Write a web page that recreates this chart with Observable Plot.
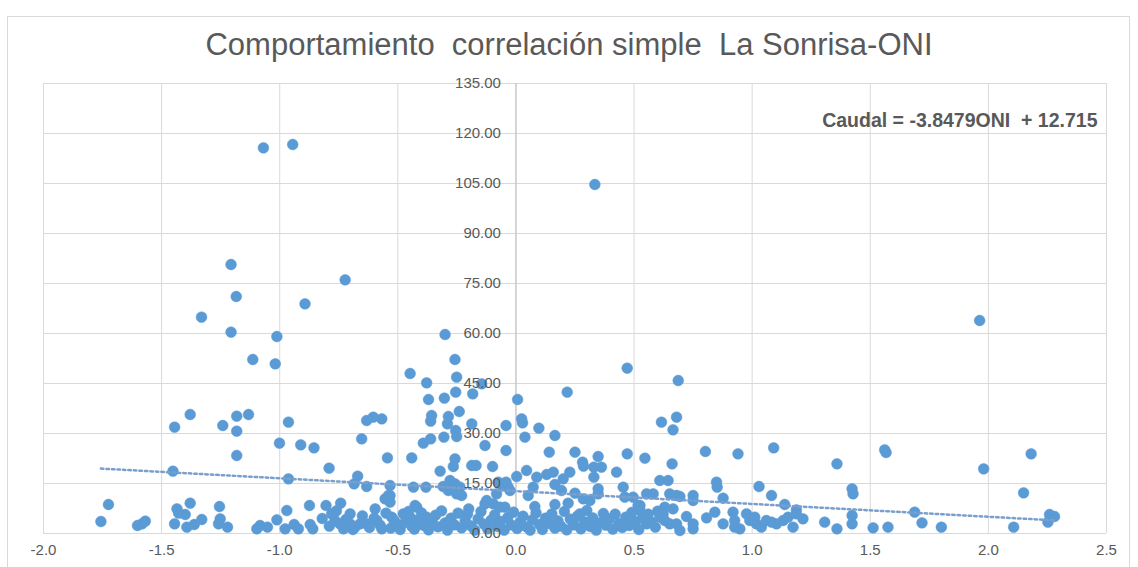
<!DOCTYPE html>
<html>
<head>
<meta charset="utf-8">
<script src="https://cdn.jsdelivr.net/npm/d3@7"></script>
<script src="https://cdn.jsdelivr.net/npm/@observablehq/plot@0.6"></script>
<style>
  html, body { margin: 0; padding: 0; background: #fff; }
  #wrap { position: relative; width: 1138px; height: 567px; overflow: hidden; background: #fff; }
  #border { position: absolute; left: 7px; top: 16px; width: 1123px; height: 600px; border: 1px solid #d9d9d9; box-sizing: border-box; }
  #title { position: absolute; left: 0; top: 26px; width: 1138px; text-align: center; font-family: "Liberation Sans", Arial, sans-serif; font-size: 31px; color: #595959; white-space: pre; line-height: 38px; }
  #chart { position: absolute; left: 0; top: 0; }
</style>
</head>
<body>
<div id="wrap">
  <div id="border"></div>
  <div id="chart"></div>
  <div id="title">Comportamiento  correlación simple  La Sonrisa-ONI</div>
</div>
<script>
// Tick values
const xTicks = [-2.0, -1.5, -1.0, -0.5, 0.0, 0.5, 1.0, 1.5, 2.0, 2.5];
const yTicks = [0, 15, 30, 45, 60, 75, 90, 105, 120, 135];
const ecuacion = "Caudal = -3.8479ONI  + 12.715";
const pendiente = -3.8479;
const intercepto = 12.715;

// [ONI, Caudal] pairs
const puntosAltos = [
  [-1.069,115.7],[-0.945,116.7],[0.334,104.7],[-1.206,80.7],[-1.184,71.1],[-0.723,76.1],
  [-0.893,68.9],[-1.331,64.9],[1.963,63.9],[-1.206,60.4],[-1.012,59.1],[-0.30,59.7],
  [-1.114,52.2],[-1.019,50.9],[-0.258,52.2],[0.471,49.6],[-0.448,48.0],[0.687,45.9],
  [-0.378,45.2],[-0.251,46.9],[-0.145,44.9],[-0.37,40.2],[-0.303,40.6],[-0.255,42.4],
  [-0.183,41.9],[0.007,40.2],[0.217,42.4]
];
const puntosMedios = [
  [-0.357,35.4],[-0.361,33.7],[-0.286,35.1],[-0.29,32.9],[-0.24,36.6],[-0.187,32.9],
  [-0.255,30.9],[-0.251,29.1],[-0.305,28.9],[-0.361,28.4],[-0.392,27.1],[-0.131,26.4],
  [-0.042,32.4],[0.024,34.4],[0.028,33.2],[0.038,28.9],[0.097,31.6],[0.165,29.4],
  [-0.042,24.9],[0.141,24.4],[0.25,24.4],[0.282,21.4],[0.286,20.2],[0.348,23.1],
  [0.33,19.9],[0.362,19.9],[0.33,16.9],[0.471,23.9],[0.546,22.6],[0.426,18.4],
  [-0.441,22.7],[-0.544,22.7],[-0.258,22.4],[-0.265,20.1],[-0.321,18.7],[-0.187,20.4],
  [-0.169,20.4],[-0.099,20.1],[0.616,33.4],[0.68,34.9],[0.665,31.1],[0.661,20.9],
  [0.802,24.6],[0.94,23.9],[1.091,25.7],[1.359,20.9],[1.561,25.1],[1.567,24.3],
  [1.98,19.4],[2.181,23.9],[2.149,12.2],[-1.445,31.9],[-1.379,35.7],[-1.241,32.4],
  [-1.182,35.2],[-1.182,30.7],[-1.132,35.7],[-1.182,23.4],[-0.963,33.4],[-1.001,27.1],
  [-0.911,26.6],[-0.855,25.7],[-0.653,28.4],[-0.632,33.9],[-0.604,34.9],[-0.568,34.4],
  [-1.452,18.7],[-0.963,16.4],[-0.791,19.6],[-0.67,17.2],[-0.685,14.9],[-0.632,14.1]
];
const puntosMedioBajos = [
  [-0.042,15.4],[0.003,17.1],[0.045,18.9],[0.088,16.9],[0.13,17.7],[0.158,18.4],
  [0.2,16.4],[0.228,18.4],[0.165,14.7],[0.193,12.9],[0.073,13.9],[0.052,11.4],
  [0.08,8.1],[0.165,8.7],[0.221,9.1],[0.25,12.1],[0.285,10.4],[0.313,9.9],
  [0.271,5.9],[0.348,11.9],[0.348,13.4],[0.454,13.9],[0.461,10.9],[0.496,10.9],
  [0.517,8.4],[0.52,7.2],[0.553,11.9],[-0.434,13.9],[-0.381,13.9],[-0.308,14.1],
  [-0.279,15.9],[-0.258,14.9],[-0.237,13.9],[-0.251,11.9],[-0.286,12.9],[-0.23,11.4],
  [-0.075,15.4],[-0.06,14.6],[-0.033,13.9],[-0.025,12.9],[-0.082,11.9],[-0.124,9.9],
  [-0.131,8.9],[-0.096,8.9],[-0.068,7.9],[-0.047,7.9],[-0.427,8.4],[-0.533,11.4],
  [-0.533,9.4],[-0.2,7.4],[-0.533,14.4],[0.609,15.9],[0.644,15.9],[0.581,11.9],
  [0.651,11.9],[0.68,11.4],[0.694,11.1],[0.75,11.4],[0.75,9.9],[0.849,15.4],
  [0.852,13.9],[0.877,10.6],[1.029,14.1],[1.082,11.4],[1.138,8.7],[1.187,7.1],
  [1.423,13.4],[1.427,11.9],[1.688,6.4]
];
const puntosBajosIzq = [
  [-1.725,8.7],[-1.757,3.6],[-1.602,2.4],[-1.569,3.7],[-1.583,2.9],[-1.435,7.4],
  [-1.428,6.1],[-1.4,5.7],[-1.379,9.1],[-1.445,2.9],[-1.393,1.9],[-1.362,2.7],
  [-1.33,4.2],[-1.255,8.1],[-1.252,4.4],[-1.259,2.9],[-1.221,1.9],[-1.097,1.4],
  [-1.083,2.4],[-1.052,1.9],[-1.012,4.1],[-0.97,6.9],[-0.977,1.4],[-0.939,2.7],
  [-0.921,1.4],[-0.874,8.4],[-0.871,2.7],[-0.86,1.4],[-0.804,8.4],[-0.742,9.1],
  [-0.78,5.9],[-0.766,3.9],[-0.745,2.9],[-0.73,1.4],[-0.702,5.9],[-0.702,2.9],
  [-0.681,1.9],[-0.66,2.9],[-0.632,2.9],[-0.596,7.4],[-0.589,3.9],[-0.568,1.4],
  [-0.554,10.4],[-0.54,11.4],[-0.526,4.9],[-0.505,2.9],[-0.477,5.9],[-0.448,4.9],
  [-0.42,7.9],[-0.406,2.9],[-0.378,4.9],[-0.82,4.5],[-0.79,2.2],[-0.76,6.8],
  [-0.72,4.2],[-0.69,1.2],[-0.65,5.3],[-0.62,1.8],[-0.6,4.6],[-0.575,2.5],
  [-0.55,6.1],[-0.53,1.6],[-0.515,3.8],[-0.49,1.2],[-0.47,3.3],[-0.455,6.6],[-0.44,2.1]
];
const puntosBajosCentro = [
  [-0.43,1.3],[-0.415,4.1],[-0.4,6.2],[-0.39,2.4],[-0.37,1.1],[-0.355,3.6],
  [-0.34,5.5],[-0.33,2.0],[-0.315,6.8],[-0.3,3.2],[-0.29,1.0],[-0.275,4.6],
  [-0.26,2.6],[-0.245,6.1],[-0.23,1.7],[-0.215,3.9],[-0.205,5.8],[-0.19,2.3],
  [-0.175,1.0],[-0.16,4.4],[-0.148,6.6],[-0.135,2.8],[-0.12,1.4],[-0.105,4.0],
  [-0.09,5.6],[-0.078,2.1],[-0.065,3.6],[-0.05,1.0],[-0.035,4.8],[-0.02,2.6],
  [-0.01,6.4],[0.005,1.5],[0.018,3.4],[0.03,5.2],[0.045,2.0],[0.06,1.0],
  [0.07,4.1],[0.085,6.2],[0.1,2.7],[0.112,1.2],[0.125,4.6],[0.14,3.0],
  [0.152,5.9],[0.165,1.6],[0.178,3.8],[0.19,2.2],[0.205,6.6],[0.215,1.1],
  [0.23,4.3],[0.245,2.6],[0.26,5.2],[0.275,1.4],[0.29,3.5],[0.3,6.9],
  [0.315,2.1],[0.325,4.7],[0.34,1.0],[0.355,3.2],[0.37,6.0],[0.38,2.5],
  [0.395,4.4],[0.41,1.3],[0.42,5.8],[0.435,3.0],[0.45,1.8],[0.465,4.9],
  [0.48,2.4],[0.49,6.3],[0.505,3.6],[0.52,1.2],[0.535,4.5],[0.56,5.8],
  [0.59,1.9],[0.6,6.7]
];
const puntosBajosDer = [
  [0.525,8.4],[0.525,6.9],[0.63,7.9],[0.623,5.9],[0.665,7.4],[0.609,4.9],
  [0.63,3.9],[0.651,2.9],[0.68,2.9],[0.694,0.9],[0.553,2.9],[0.574,3.4],
  [0.722,5.1],[0.75,2.9],[0.75,1.4],[0.807,4.7],[0.842,6.4],[0.877,2.9],
  [0.919,6.4],[0.926,3.9],[0.926,1.9],[0.948,1.4],[0.976,5.9],[0.99,3.9],
  [1.011,4.9],[1.018,2.9],[1.039,1.9],[1.06,3.9],[1.082,3.4],[1.103,2.9],
  [1.131,3.9],[1.152,4.9],[1.173,1.9],[1.187,5.9],[1.215,4.4],[1.307,3.4],
  [1.359,1.4],[1.423,5.4],[1.423,2.9],[1.512,1.7],[1.575,1.9],[1.719,3.2],
  [1.801,1.9],[2.107,1.9],[2.259,5.7],[2.28,5.1],[2.252,3.4]
];

const puntos = [].concat(puntosAltos, puntosMedios, puntosMedioBajos, puntosBajosIzq, puntosBajosCentro, puntosBajosDer)
  .map(([oni, caudal]) => ({oni, caudal}));

const [xMin, xMax] = d3.extent(puntos, d => d.oni);
const tendencia = [xMin, xMax].map(x => ({oni: x, caudal: pendiente * x + intercepto}));

const gray = "#595959";
const chart = Plot.plot({
  width: 1138,
  height: 567,
  marginLeft: 43,
  marginRight: 32,
  marginTop: 83,
  marginBottom: 34,
  x: {domain: [-2, 2.5], axis: null},
  y: {domain: [0, 135], axis: null},
  style: {fontFamily: "'Liberation Sans', Arial, sans-serif", background: "transparent", overflow: "visible"},
  marks: [
    Plot.gridX(xTicks, {stroke: "#d9d9d9", strokeOpacity: 1, strokeWidth: 1}),
    Plot.gridY(yTicks, {stroke: "#d9d9d9", strokeOpacity: 1, strokeWidth: 1}),
    Plot.ruleX([0], {stroke: "#bfbfbf", strokeWidth: 1}),
    Plot.axisX(xTicks, {tickSize: 0, tickPadding: 11, tickFormat: d => d.toFixed(1), fontSize: 15, fill: gray, label: null}),
    Plot.dot(puntos, {x: "oni", y: "caudal", r: 5.4, fill: "#5b9bd5", stroke: "#5b9bd5", strokeWidth: 0.5}),
    Plot.line(tendencia, {x: "oni", y: "caudal", stroke: "#7a9fcc", strokeWidth: 2.5, strokeDasharray: "2.5 3"}),
    Plot.text(yTicks, {x: 0, y: d => d, text: d => d.toFixed(2), textAnchor: "end", dx: -15, fontSize: 15, fill: gray}),
    Plot.text([ecuacion], {frameAnchor: "top-right", dx: -9, dy: 37, lineAnchor: "middle", textAnchor: "end", fontSize: 19.5, fontWeight: "bold", fill: gray})
  ]
});
document.getElementById("chart").appendChild(chart);
</script>
</body>
</html>
